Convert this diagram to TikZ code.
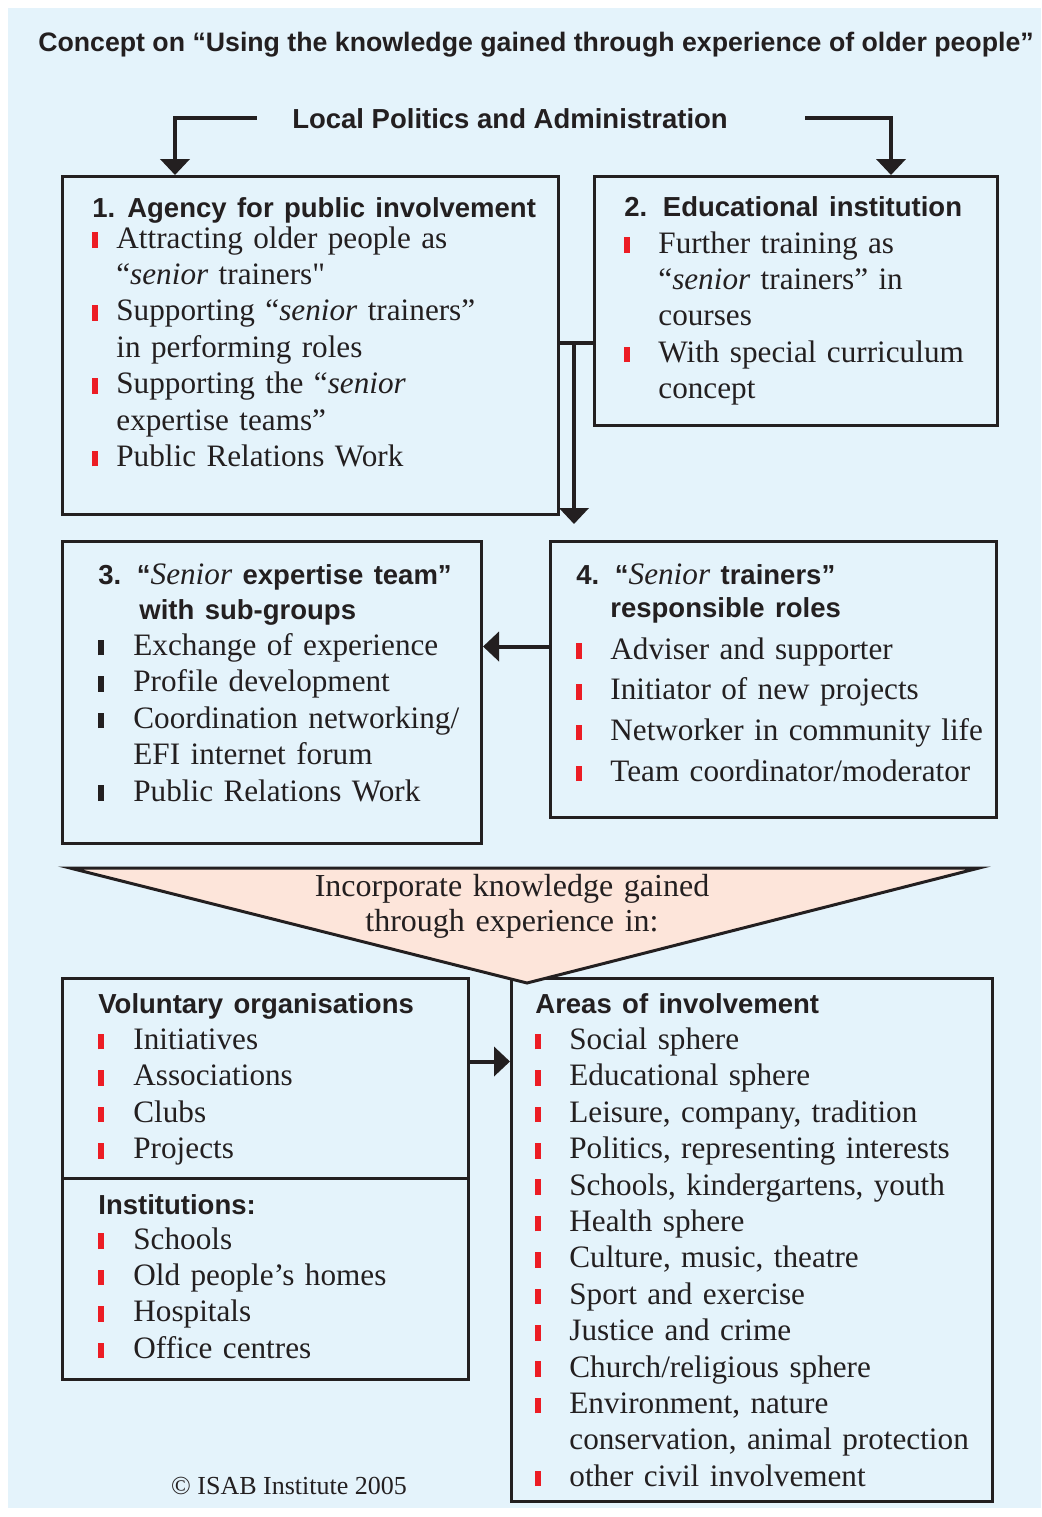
\documentclass[tikz,border=0pt]{standalone}
\usepackage{fontspec}
\setmainfont{Liberation Serif}
\setsansfont{Liberation Sans}
\newfontface\plainq{Liberation Serif}[Ligatures=TeXOff]
\usetikzlibrary{arrows.meta}

\definecolor{isabblue}{HTML}{E4F3FB}
\definecolor{isabpeach}{HTML}{FDE5DA}
\definecolor{isabred}{HTML}{EC1C24}
\definecolor{isabink}{HTML}{231F20}

\newlength\bulsep
\setlength\bulsep{17pt}
\newcommand\bul[1][isabred]{\makebox[\bulsep][l]{\textcolor{#1}{\rule{2.8pt}{7.8pt}}}}
\newcommand\cont{\hspace*{\bulsep}}
\newcommand\hd[1]{{\fontsize{13.75}{18.2}\selectfont\sffamily\bfseries #1}}

\tikzset{
  box/.style={draw=isabink, line width=1.5pt, anchor=north west, inner sep=0pt},
  txt/.style={anchor=base west, inner sep=0pt, text width=#1, align=left, text=isabink,
    font=\fontsize{15.6}{18.2}\selectfont},
  bulindent/.style={execute at begin node={\setlength\bulsep{#1}}},
  arr/.style={draw=isabink, line width=2pt, -{Triangle[width=14.5pt,length=8pt]}},
  link/.style={draw=isabink, line width=2pt}
}

\begin{document}
\begin{tikzpicture}[x=0.5pt, y=-0.5pt]
  \useasboundingbox (0,0) rectangle (1041,1517);
  \fill[white] (0,0) rectangle (1041,1517);
  \fill[isabblue] (8,8) rectangle (1041,1508);

  % title and top line
  \node[anchor=base, inner sep=0pt, text=isabink, font=\fontsize{13.35}{15}\selectfont\sffamily\bfseries] (title) at (536,51)
    {Concept on “Using the knowledge gained through experience of older people”};
  \node[anchor=base, inner sep=0pt, text=isabink, font=\fontsize{13.75}{16}\selectfont\sffamily\bfseries] (local) at (510,128)
    {Local Politics and Administration};

  % boxes
  \node[box, minimum width=248pt, minimum height=169pt] (agency) at (61,175) {};
  \node[box, minimum width=201.5pt, minimum height=124.5pt] (edu) at (593,175) {};
  \node[box, minimum width=209.5pt, minimum height=151pt] (team) at (61,540) {};
  \node[box, minimum width=223pt, minimum height=138pt] (roles) at (549,540) {};
  \node[box, minimum width=203pt, minimum height=100pt] (volunt) at (61,977) {};
  \node[box, minimum width=203pt, minimum height=100.5pt] (inst) at (61,1177) {};
  \node[box, minimum width=240.5pt, minimum height=261.5pt] (areas) at (510,977) {};

  % funnel
  \draw[draw=isabink, fill=isabpeach, line width=1.5pt] (70,868) -- (979,868) -- (527,983) -- cycle;
  \node[anchor=base, inner sep=0pt, text width=230pt, align=center, text=isabink, font=\fontsize{16}{17.5}\selectfont] (incorp) at (512,896)
    {Incorporate knowledge gained\\through experience in:};

  % box texts
  \node[txt=235pt, bulindent=12pt] (agencytxt) at (92,217) {%
    \hd{1.\hspace{6pt}Agency for public involvement}\\[-2.7pt]
    \bul Attracting older people as\\
    \cont “\textit{senior} trainers{\plainq"}\\
    \bul Supporting “\textit{senior} trainers”\\
    \cont in performing roles\\
    \bul Supporting the “\textit{senior}\\
    \cont expertise teams”\\
    \bul Public Relations Work};
  \node[txt=185pt] (edutxt) at (624,216) {%
    \hd{2. Educational institution}\\[0.3pt]
    \bul Further training as\\
    \cont “\textit{senior} trainers” in\\
    \cont courses\\
    \bul With special curriculum\\
    \cont concept};
  \node[txt=190pt, bulindent=17.5pt] (teamtxt) at (98,584) {%
    \hd{3. “}\textit{Senior}\ \hd{expertise team”}\\[-0.7pt]
    \hspace*{20.5pt}\hd{with sub-groups}\\
    \bul[isabink]Exchange of experience\\
    \bul[isabink]Profile development\\
    \bul[isabink]Coordination networking/\\
    \cont EFI internet forum\\
    \bul[isabink]Public Relations Work};
  \node[txt=210pt] (rolestxt) at (576,584) {%
    \hd{4. “}\textit{Senior}\ \hd{trainers”}\\[-1.7pt]
    \cont\hd{responsible roles}\\[2.8pt]
    \bul Adviser and supporter\\[2.15pt]
    \bul Initiator of new projects\\[2.15pt]
    \bul Networker in community life\\[2.15pt]
    \bul Team coordinator/moderator};
  \node[txt=185pt, bulindent=17.5pt] (volunttxt) at (98,1013) {%
    \hd{Voluntary organisations}\\
    \bul Initiatives\\
    \bul Associations\\
    \bul Clubs\\
    \bul Projects};
  \node[txt=185pt, bulindent=17.5pt] (insttxt) at (98,1214) {%
    \hd{Institutions:}\\[-0.7pt]
    \bul Schools\\
    \bul Old people’s homes\\
    \bul Hospitals\\
    \bul Office centres};
  \node[txt=225pt] (areastxt) at (535,1013) {%
    \hd{Areas of involvement}\\
    \bul Social sphere\\
    \bul Educational sphere\\
    \bul Leisure, company, tradition\\
    \bul Politics, representing interests\\
    \bul Schools, kindergartens, youth\\
    \bul Health sphere\\
    \bul Culture, music, theatre\\
    \bul Sport and exercise\\
    \bul Justice and crime\\
    \bul Church/religious sphere\\
    \bul Environment, nature\\
    \cont conservation, animal protection\\
    \bul other civil involvement};

  \node[anchor=base, inner sep=0pt, text=isabink, font=\fontsize{13}{15}\selectfont] (copy) at (289,1494)
    {© ISAB Institute 2005};

  % connectors
  \draw[arr] ([xshift=-17.5pt]local.west) -| ([xshift=57pt]agency.north west);
  \draw[arr] ([xshift=38.5pt]local.east) -| ([xshift=-54pt]edu.north east);
  \coordinate (tee) at (574,343);
  \coordinate (teeend) at (574,524);
  \draw[link] (agency.east |- tee) -- (edu.west |- tee);
  \draw[arr] (tee) -- (teeend);
  \draw[arr] ([yshift=16.5pt]roles.west) -- ([yshift=16.5pt]roles.west -| team.east);
  \draw[arr] ([yshift=8.5pt]volunt.east) -- ([yshift=8.5pt]volunt.east -| areas.west);
\end{tikzpicture}
\end{document}
